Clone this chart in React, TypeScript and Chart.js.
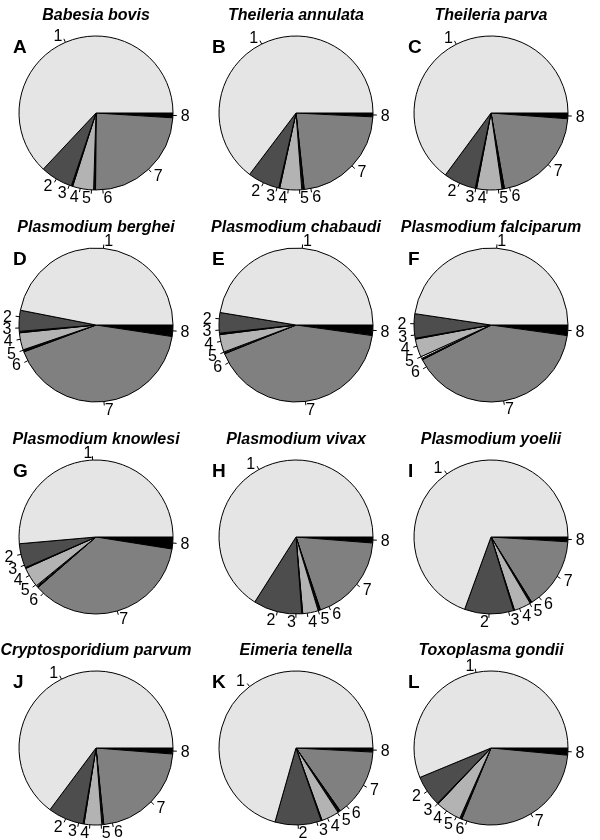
import React, { useEffect, useRef } from "react";
import { Chart, registerables } from "chart.js";

Chart.register(...registerables);

// ---------- DATA ----------
const sliceLabels = ["1", "2", "3", "4", "5", "6", "7", "8"];
const sliceColors = ["#e5e5e5", "#4d4d4d", "#000000", "#b3b3b3", "#ffffff", "#000000", "#808080", "#000000"];

const panelTitles = [
  "Babesia bovis", "Theileria annulata", "Theileria parva",
  "Plasmodium berghei", "Plasmodium chabaudi", "Plasmodium falciparum",
  "Plasmodium knowlesi", "Plasmodium vivax", "Plasmodium yoelii",
  "Cryptosporidium parvum", "Eimeria tenella", "Toxoplasma gondii",
];
const panelLetters = ["A", "B", "C", "D", "E", "F", "G", "H", "I", "J", "K", "L"];

// percentage of each category 1..8 per organism
const babesiaBovis = [63.0, 6.8, 0.3, 4.4, 0.1, 0.3, 24.1, 1.0];
const theileriaAnnulata = [64.7, 6.7, 0.2, 4.6, 0.2, 0.3, 22.5, 0.8];
const theileriaParva = [64.9, 6.8, 0.3, 5.3, 0.1, 0.4, 21.0, 1.2];
const plasmodiumBerghei = [46.9, 4.4, 0.3, 3.6, 0.15, 0.3, 41.9, 2.4];
const plasmodiumChabaudi = [47.4, 4.3, 0.3, 3.7, 0.2, 0.2, 41.7, 2.2];
const plasmodiumFalciparum = [47.6, 5.1, 0.2, 3.8, 0.4, 0.3, 40.3, 2.2];
const plasmodiumKnowlesi = [51.4, 5.1, 0.2, 4.2, 0.2, 0.3, 36.1, 2.5];
const plasmodiumVivax = [66.0, 10.2, 0.2, 3.25, 0.15, 0.35, 18.6, 1.25];
const plasmodiumYoelii = [69.4, 10.3, 0.2, 3.55, 0.1, 0.3, 15.1, 1.0];
const cryptosporidiumParvum = [64.7, 7.5, 0.2, 3.7, 0.2, 0.2, 22.1, 1.25];
const eimeriaTenella = [70.6, 9.7, 0.2, 3.7, 0.15, 0.4, 14.4, 0.85];
const toxoplasmaGondii = [56.25, 6.5, 0.2, 5.4, 0.15, 0.3, 29.7, 1.5];

const panelValues = [
  babesiaBovis, theileriaAnnulata, theileriaParva,
  plasmodiumBerghei, plasmodiumChabaudi, plasmodiumFalciparum,
  plasmodiumKnowlesi, plasmodiumVivax, plasmodiumYoelii,
  cryptosporidiumParvum, eimeriaTenella, toxoplasmaGondii,
];

// ---------- LAYOUT ----------
const colCenters = [96, 296, 491];
const rowCenters = [113, 325, 537, 748];
const titleOffsetY = -98; // title centre relative to pie centre
const letterX = [13, 212, 408];
const letterOffsetY = -66;
const CANVAS = 200;
const FONT = "'Liberation Sans', Arial, Helvetica, sans-serif";
const LABEL_SIZE = 16;

const labelPlugin = {
  id: "pieLabels",
  afterDatasetsDraw(chart: any) {
    const meta = chart.getDatasetMeta(0);
    const arcs = meta.data;
    const n = arcs.length;
    if (!n) return;
    const labels = chart.data.labels as string[];
    const p0 = arcs[0].getProps(["x", "y", "outerRadius"], true);
    const cx = p0.x, cy = p0.y, R = p0.outerRadius;
    const ang = arcs.map((a: any) => {
      const p = a.getProps(["startAngle", "endAngle"], true);
      return (p.startAngle + p.endAngle) / 2;
    });
    const minSep = 12.5 / (R * 1.1);
    for (let it = 0; it < 400; it++) {
      for (let i = 0; i < n - 1; i++) {
        const g = ang[i + 1] - ang[i];
        if (g < minSep) {
          const s = (minSep - g) / 2;
          ang[i] -= s;
          ang[i + 1] += s;
        }
      }
    }
    const ctx = chart.ctx;
    ctx.save();
    ctx.strokeStyle = "#000";
    ctx.fillStyle = "#000";
    ctx.lineWidth = 1;
    ctx.font = `${LABEL_SIZE}px ${FONT}`;
    ctx.textBaseline = "alphabetic";
    for (let i = 0; i < n; i++) {
      const c = Math.cos(ang[i]);
      const s = Math.sin(ang[i]);
      ctx.beginPath();
      ctx.moveTo(cx + c * R, cy + s * R);
      ctx.lineTo(cx + c * R * 1.05, cy + s * R * 1.05);
      ctx.stroke();
      ctx.textAlign = c < 0 ? "right" : "left";
      ctx.fillText(labels[i], cx + c * R * 1.1, cy + s * R * 1.1 + LABEL_SIZE * 0.36);
    }
    ctx.restore();
  },
};

function PiePanel({ values, cx, cy }: { values: number[]; cx: number; cy: number }) {
  const ref = useRef<HTMLCanvasElement | null>(null);
  useEffect(() => {
    if (!ref.current) return;
    const chart = new Chart(ref.current, {
      type: "pie",
      data: {
        labels: [...sliceLabels].reverse(),
        datasets: [
          {
            data: [...values].reverse(),
            backgroundColor: [...sliceColors].reverse(),
            borderColor: "#000000",
            borderWidth: 1,
          },
        ],
      },
      options: {
        responsive: false,
        animation: false,
        rotation: 90,
        events: [],
        layout: { padding: 22.5 },
        plugins: { legend: { display: false }, tooltip: { enabled: false }, title: { display: false } },
      },
      plugins: [labelPlugin],
    } as any);
    return () => chart.destroy();
  }, [values]);
  return (
    <canvas
      ref={ref}
      width={CANVAS}
      height={CANVAS}
      style={{ position: "absolute", left: cx - CANVAS / 2, top: cy - CANVAS / 2, width: CANVAS, height: CANVAS }}
    />
  );
}

export default function App() {
  return (
    <div style={{ position: "absolute", left: 0, top: 0, width: 600, height: 840, background: "#fff", overflow: "hidden" }}>
      {panelValues.map((vals, idx) => {
        const col = idx % 3;
        const row = Math.floor(idx / 3);
        const cx = colCenters[col];
        const cy = rowCenters[row];
        return (
          <React.Fragment key={idx}>
            <PiePanel values={vals} cx={cx} cy={cy} />
            <div
              style={{
                position: "absolute",
                left: cx - 150,
                width: 300,
                top: cy + titleOffsetY - 11,
                height: 22,
                lineHeight: "22px",
                textAlign: "center",
                fontFamily: FONT,
                fontWeight: "bold",
                fontStyle: "italic",
                fontSize: 16,
                color: "#000",
                whiteSpace: "nowrap",
              }}
            >
              {panelTitles[idx]}
            </div>
            <div
              style={{
                position: "absolute",
                left: letterX[col],
                top: cy + letterOffsetY - 12,
                height: 24,
                lineHeight: "24px",
                fontFamily: FONT,
                fontWeight: "bold",
                fontSize: 19,
                color: "#000",
              }}
            >
              {panelLetters[idx]}
            </div>
          </React.Fragment>
        );
      })}
    </div>
  );
}
